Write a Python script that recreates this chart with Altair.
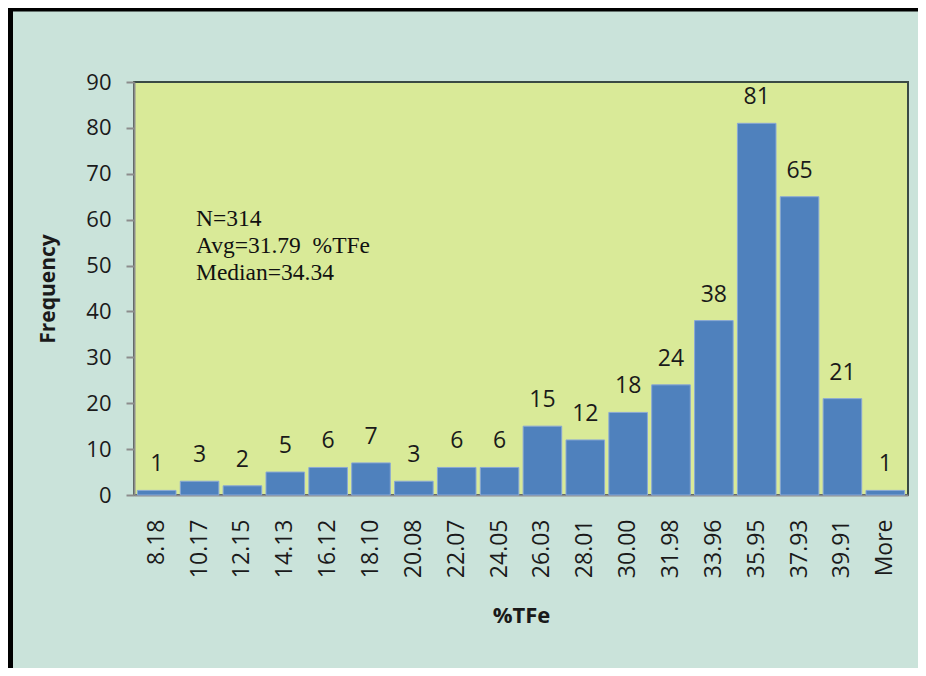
import altair as alt
import pandas as pd

bins = ["8.18", "10.17", "12.15", "14.13", "16.12", "18.10", "20.08", "22.07", "24.05",
        "26.03", "28.01", "30.00", "31.98", "33.96", "35.95", "37.93", "39.91", "More"]
freq = [1, 3, 2, 5, 6, 7, 3, 6, 6, 15, 12, 18, 24, 38, 81, 65, 21, 1]
stats_text = "N=314\nAvg=31.79 \u00a0%TFe\nMedian=34.34"
y_ticks = list(range(0, 91, 10))

df = pd.DataFrame({"bin": bins, "freq": freq})

SANS = "Open Sans"
GRAY = "#8c8c8c"

x_enc = alt.X(
    "bin:N", sort=bins, title="%TFe",
    scale=alt.Scale(paddingInner=0.1, paddingOuter=0.08),
    axis=alt.Axis(labelAngle=-90, ticks=False, labelPadding=24, labelFontSize=23,
                  labelFont=SANS, labelColor="#1a1a1a", titleFont=SANS, titleFontSize=22,
                  titleFontWeight="bold", titleColor="#1a1a1a", titlePadding=28,
                  domainColor=GRAY, domainWidth=2),
)
y_enc = alt.Y(
    "freq:Q", title="Frequency",
    scale=alt.Scale(domain=[0, 90], nice=False),
    axis=alt.Axis(values=y_ticks, grid=False, tickSize=8, tickColor=GRAY, tickWidth=2,
                  domainColor=GRAY, domainWidth=2, labelFont=SANS, labelFontSize=22,
                  labelColor="#1a1a1a", labelPadding=15, titleFont=SANS, titleFontSize=21,
                  titleFontWeight="bold", titleColor="#1a1a1a", titlePadding=27),
)

base = alt.Chart(df)
bars = base.mark_bar(color="#4f81bd", stroke="#8aa8d6", strokeWidth=1).encode(x=x_enc, y=y_enc)
labels = base.mark_text(baseline="bottom", dy=-14, fontSize=23, font=SANS, color="#1a1a1a").encode(
    x=alt.X("bin:N", sort=bins), y="freq:Q", text="freq:Q")

note = alt.Chart(pd.DataFrame({"t": [stats_text]})).mark_text(
    lineBreak="\n", lineHeight=27, align="left", baseline="top",
    font="Liberation Serif", fontSize=23.5, color="#111111"
).encode(text="t:N", x=alt.value(62), y=alt.value(125))

one = pd.DataFrame({"a": [0]})
left_border = alt.Chart(one).mark_rule(color="black", strokeWidth=5).encode(
    x=alt.value(-123.5), y=alt.value(-76), y2=alt.value(600))
top_border = alt.Chart(one).mark_rule(color="black", strokeWidth=4).encode(
    x=alt.value(-126), x2=alt.value(800), y=alt.value(-72.5))

chart = alt.layer(bars, labels, note, left_border, top_border).properties(
    width=774, height=413,
    padding={"left": 126, "top": 74, "right": 10, "bottom": 173},
    autosize=alt.AutoSizeParams(type="none"),
    background="#cae3da",
).configure_view(fill="#d9ea98", stroke="#3a4a44", strokeWidth=2)

chart.save("out.html", embed_options={"renderer": "svg", "actions": False})
